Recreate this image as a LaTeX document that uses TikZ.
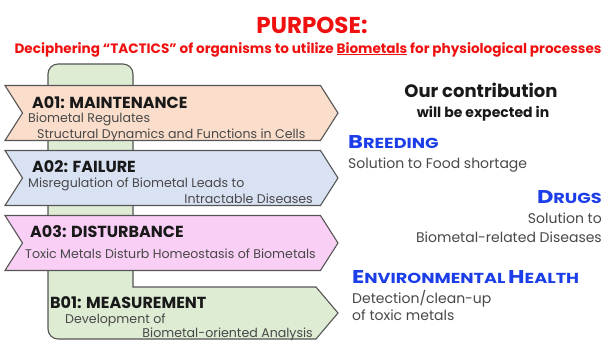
\documentclass[tikz,border=0pt]{standalone}
\usepackage{fontspec}
\setmainfont{Poppins}
\newfontfamily\widefont[FakeStretch=1.22]{Poppins}
\usepackage{tikz}
\usetikzlibrary{shapes.symbols,positioning}
\definecolor{edgegray}{RGB}{85,85,85}
\definecolor{peach}{RGB}{250,222,203}
\definecolor{paleblue}{RGB}{217,226,243}
\definecolor{palepink}{RGB}{249,207,246}
\definecolor{palegreen}{RGB}{222,236,212}
\definecolor{purposered}{RGB}{240,16,16}
\definecolor{fieldblue}{RGB}{28,62,232}
\definecolor{descgray}{RGB}{72,72,72}
\definecolor{headblack}{RGB}{25,25,25}
\newcommand{\fakesc}[2]{{\fontsize{18.5}{18.5}\selectfont #1}{\fontsize{14.5}{14.5}\selectfont #2}}
\tikzstyle{block} = [signal, signal to=east, signal from=west, signal pointer angle=115, minimum width=333pt, minimum height=55pt, inner sep=0pt, draw=edgegray, line width=1.1pt]
\tikzstyle{greenblock} = [draw=edgegray, fill=palegreen, line width=1.1pt]
\tikzstyle{head} = [anchor=base west, inner sep=0pt, text=headblack, font=\bfseries\fontsize{16}{16}\selectfont]
\tikzstyle{desc} = [anchor=base west, inner sep=0pt, text=descgray, font=\fontsize{12.6}{12.6}\selectfont]
\tikzstyle{field} = [inner sep=0pt, text=fieldblue, font=\widefont\bfseries]
\tikzstyle{note} = [inner sep=0pt, text=descgray, font=\fontsize{14}{14}\selectfont]
\tikzstyle{title} = [anchor=base, inner sep=0pt, text=purposered, font=\bfseries\fontsize{23}{23}\selectfont]
\begin{document}
\begin{tikzpicture}[x=1pt, y=-1pt, node distance=65pt]

	\useasboundingbox (0,0) rectangle (611,341);

	\draw[greenblock] (48,200) [rounded corners=10pt] -- (48,64) -- (133,64) [sharp corners] -- (133,287) -- (316,287) -- (338,313) -- (316,339) [rounded corners=10pt] -- (48,339) -- cycle;

	\node (a01)[block, fill=peach] at (171.5,113) {};

	\node (a02)[block, fill=paleblue, below of=a01] {};

	\node (a03)[block, fill=palepink, below of=a02] {};



	\node (purpose)[title] at (312,33) {PURPOSE:};

	\node (tactics)[title, font=\bfseries\fontsize{13.6}{13.6}\selectfont] at (308,53) {Deciphering “TACTICS” of organisms to utilize \underline{Biometals} for physiological processes};

	\node (a01head)[head] at (32,108) {A01: MAINTENANCE};
	\node (a01desc)[desc] at (28,122) {Biometal Regulates};
	\node (a01more)[desc] at (37,138) {Structural Dynamics and Functions in Cells};

	\node (a02head)[head] at (32,172) {A02: FAILURE};
	\node (a02desc)[desc] at (28,187) {Misregulation of Biometal Leads to};
	\node (a02more)[desc, anchor=base east] at (313,203) {Intractable Diseases};

	\node (a03head)[head] at (30,237) {A03: DISTURBANCE};
	\node (a03desc)[desc] at (25,258) {Toxic Metals Disturb Homeostasis of Biometals};

	\node (b01head)[head] at (50,308) {B01: MEASUREMENT};
	\node (b01desc)[desc] at (65,323) {Development of};
	\node (b01more)[desc, anchor=base east] at (313,337) {Biometal-oriented Analysis};



	\node (ours)[anchor=base, inner sep=0pt, text=headblack, font=\bfseries\fontsize{18}{18}\selectfont] at (481,97) {Our contribution};
	\node (expected)[anchor=base, inner sep=0pt, text=headblack, font=\bfseries\fontsize{14}{14}\selectfont] at (483,117) {will be expected in};

	\node (breeding)[field, anchor=base west] at (348,148) {\fakesc{B}{REEDING}};
	\node (food)[note, anchor=base west] at (348,168) {Solution to Food shortage};

	\node (drugs)[field, anchor=base east] at (602,203) {\fakesc{D}{RUGS}};
	\node (drugsol)[note, anchor=base east] at (602,223) {Solution to};
	\node (diseases)[note, anchor=base east] at (602,242) {Biometal-related Diseases};

	\node (health)[field, anchor=base west] at (352,283) {\fakesc{E}{NVIRONMENTAL} \fakesc{H}{EALTH}};
	\node (cleanup)[note, anchor=base west] at (352,303) {Detection/clean-up};
	\node (toxic)[note, anchor=base west] at (352,320) {of toxic metals};

\end{tikzpicture}
\end{document}
